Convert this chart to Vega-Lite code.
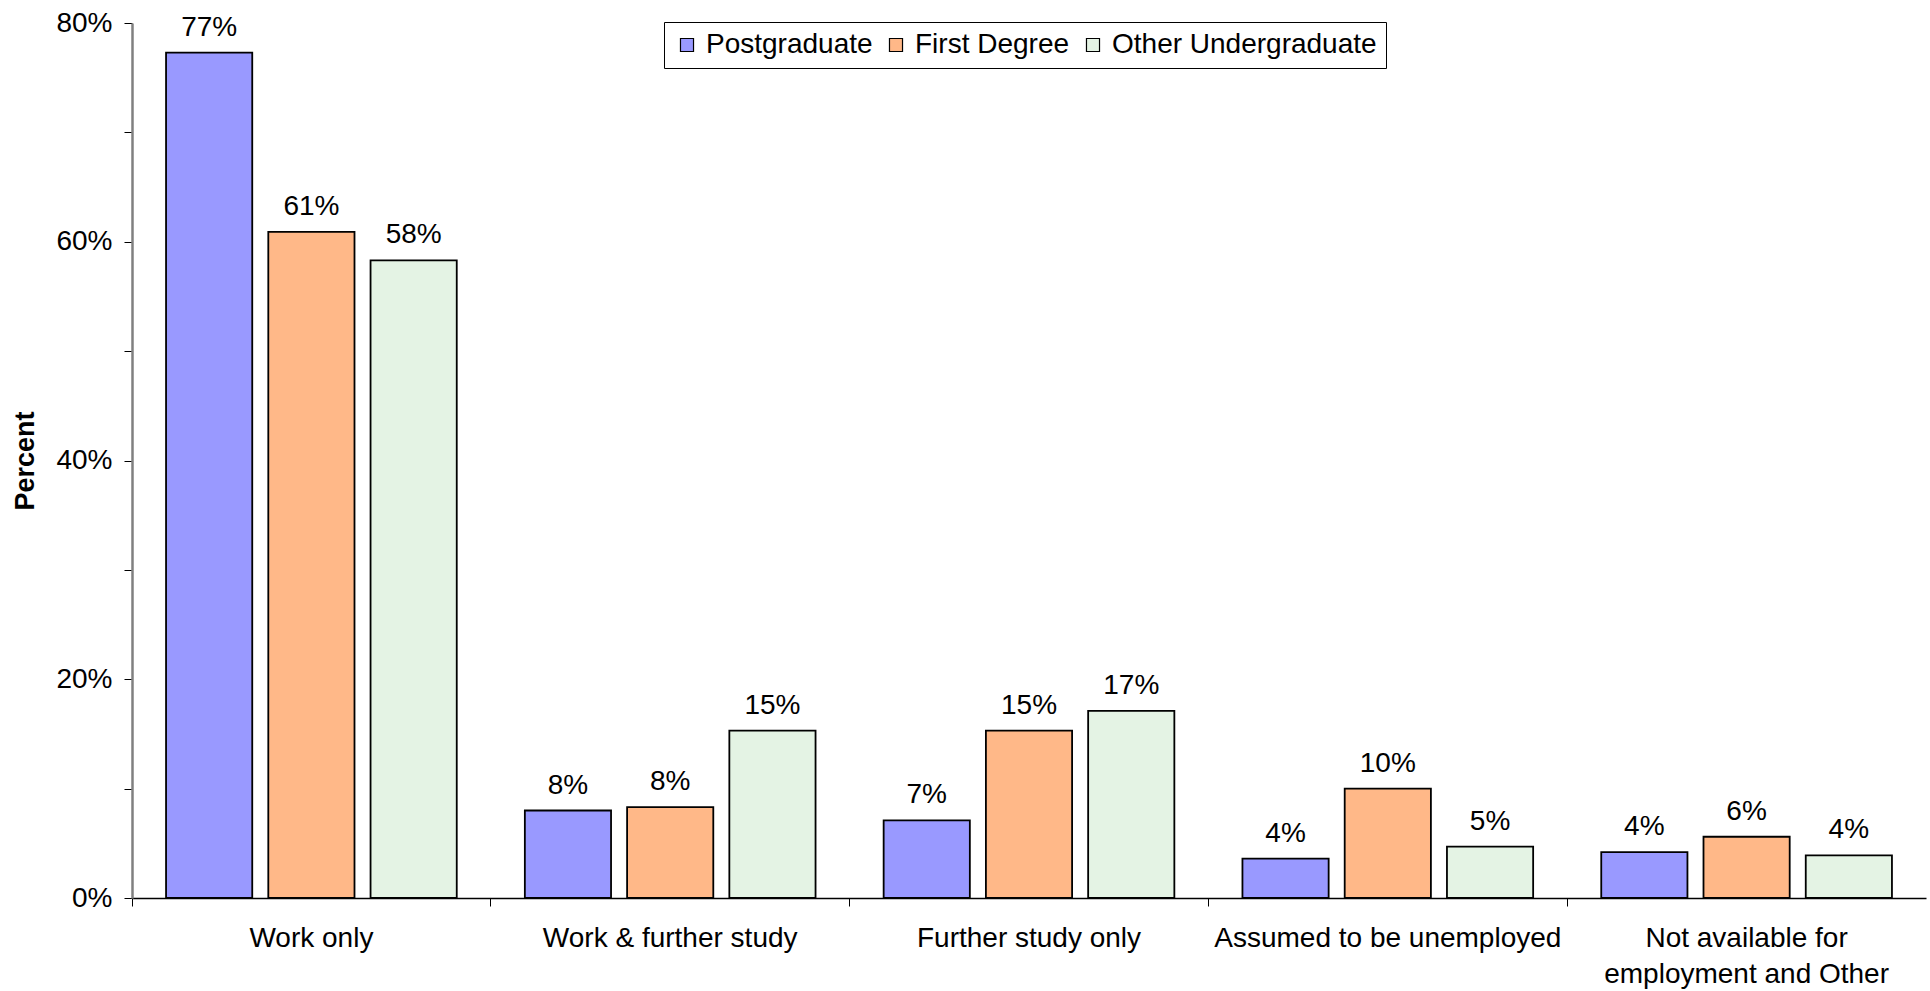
{
  "$schema": "https://vega.github.io/schema/vega-lite/v6.json",
  "width": 1794,
  "height": 875,
  "autosize": {"type": "none"},
  "padding": {"left": 132, "top": 23, "right": 4, "bottom": 93},
  "background": "white",
  "config": {"font": "Liberation Sans", "view": {"stroke": null}},
  "data": {
    "values": [
      {"category": "Work only", "level": "Postgraduate", "value": 0.773},
      {"category": "Work only", "level": "First Degree", "value": 0.609},
      {"category": "Work only", "level": "Other Undergraduate", "value": 0.583},
      {"category": "Work & further study", "level": "Postgraduate", "value": 0.080},
      {"category": "Work & further study", "level": "First Degree", "value": 0.083},
      {"category": "Work & further study", "level": "Other Undergraduate", "value": 0.153},
      {"category": "Further study only", "level": "Postgraduate", "value": 0.071},
      {"category": "Further study only", "level": "First Degree", "value": 0.153},
      {"category": "Further study only", "level": "Other Undergraduate", "value": 0.171},
      {"category": "Assumed to be unemployed", "level": "Postgraduate", "value": 0.036},
      {"category": "Assumed to be unemployed", "level": "First Degree", "value": 0.100},
      {"category": "Assumed to be unemployed", "level": "Other Undergraduate", "value": 0.047},
      {"category": "Not available for employment and Other", "level": "Postgraduate", "value": 0.042},
      {"category": "Not available for employment and Other", "level": "First Degree", "value": 0.056},
      {"category": "Not available for employment and Other", "level": "Other Undergraduate", "value": 0.039}
    ]
  },
  "encoding": {
    "x": {
      "field": "category",
      "type": "nominal",
      "sort": null,
      "title": null,
      "scale": {"paddingInner": 0, "paddingOuter": 0},
      "axis": {
        "bandPosition": 0,
        "labelAngle": 0,
        "labelFontSize": 28,
        "labelColor": "black",
        "labelPadding": 18,
        "labelLimit": 400,
        "labelLineHeight": 36,
        "labelExpr": "datum.label == 'Not available for employment and Other' ? ['Not available for', 'employment and Other'] : datum.label",
        "tickSize": 8,
        "tickColor": "black",
        "domainColor": "black",
        "domainWidth": 1.5
      }
    },
    "xOffset": {
      "field": "level",
      "type": "nominal",
      "sort": ["Postgraduate", "First Degree", "Other Undergraduate"],
      "scale": {"paddingInner": 0.157, "paddingOuter": 0.333}
    },
    "y": {
      "field": "value",
      "type": "quantitative",
      "scale": {"domain": [0, 0.8], "nice": false},
      "title": "Percent",
      "axis": {
        "values": [0, 0.1, 0.2, 0.3, 0.4, 0.5, 0.6, 0.7, 0.8],
        "labelExpr": "round(datum.value * 100) % 20 == 0 ? format(datum.value, '.0%') : ''",
        "grid": false,
        "labelFontSize": 28,
        "labelColor": "black",
        "labelPadding": 12,
        "tickSize": 8,
        "tickColor": "black",
        "domainColor": "#808080",
        "domainWidth": 2.5,
        "titleFontSize": 27,
        "titleFontWeight": "bold",
        "titleColor": "black",
        "titlePadding": 16
      }
    }
  },
  "layer": [
    {
      "mark": {"type": "bar", "stroke": "black", "strokeWidth": 1.8},
      "encoding": {
        "fill": {
          "field": "level",
          "type": "nominal",
          "scale": {
            "domain": ["Postgraduate", "First Degree", "Other Undergraduate"],
            "range": ["#9999FF", "#FFB888", "#E4F3E4"]
          },
          "legend": {
            "title": null,
            "orient": "none",
            "direction": "horizontal",
            "legendX": 532,
            "legendY": -1,
            "padding": 9,
            "fillColor": "white",
            "strokeColor": "black",
            "symbolType": "square",
            "symbolSize": 170,
            "symbolStrokeColor": "black",
            "symbolStrokeWidth": 1.2,
            "symbolOpacity": 1,
            "labelFontSize": 28,
            "labelColor": "black",
            "labelLimit": 400,
            "labelOffset": 5,
            "columnPadding": 9
          }
        }
      }
    },
    {
      "mark": {"type": "text", "baseline": "alphabetic", "dy": -17, "fontSize": 28, "color": "black"},
      "encoding": {"text": {"field": "value", "type": "quantitative", "format": ".0%"}}
    }
  ]
}
